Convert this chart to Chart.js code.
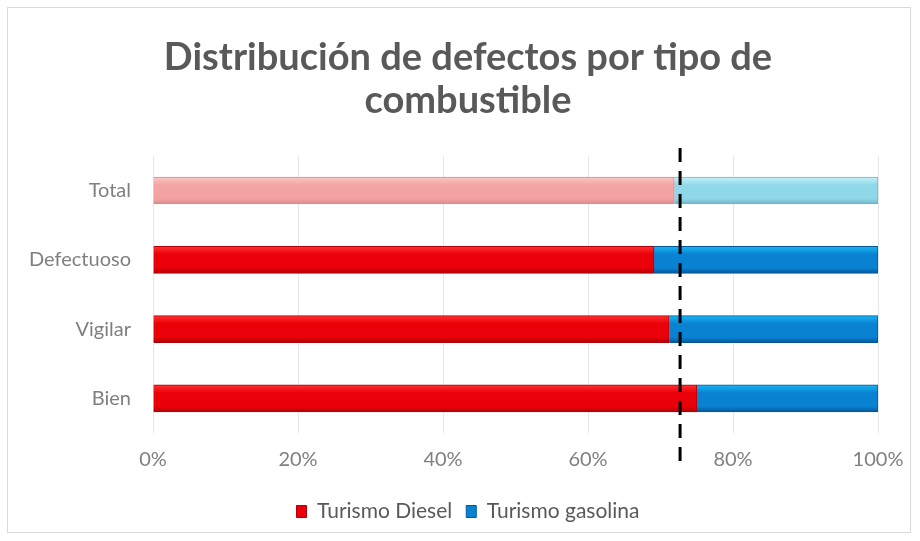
<!DOCTYPE html>
<html>
<head>
<meta charset="utf-8">
<script src="https://cdn.jsdelivr.net/npm/chart.js@4"></script>
<style>
  html, body { margin: 0; padding: 0; background: #fff; }
  #wrap { position: absolute; left: 7px; top: 7px; width: 904px; height: 526px; border: 1px solid #d9d9d9; box-sizing: border-box; }
  canvas { position: absolute; left: -8px; top: -8px; }
</style>
</head>
<body>
<div id="wrap"><canvas id="defectos-chart" width="920" height="541"></canvas></div>
<script>
var categories = ['Total', 'Defectuoso', 'Vigilar', 'Bien'];
var diesel = [71.9, 69.1, 71.2, 75.0];
var gasolina = [28.1, 30.9, 28.8, 25.0];
var referenceLine = 72.7;
var xTicks = [0, 20, 40, 60, 80, 100];

// colores: [claro, medio, oscuro] para total y resto
var dieselColors = { total: ['#fbc8c8', '#f4a3a3', '#d98c8c'], other: ['#ff3030', '#ea0008', '#b00008'] };
var gasColors = { total: ['#c6f1fa', '#8fd8e9', '#6fb5c6'], other: ['#19b6f4', '#0a82d2', '#05579a'] };

function barFill(colors) {
    return function(context) {
        var set = context.dataIndex === 0 ? colors.total : colors.other;
        var chart = context.chart;
        var y = chart.scales.y;
        if (context.dataIndex === undefined || !y || !chart.chartArea) {
            return colors.other[1];
        }
        var cy = y.getPixelForValue(context.dataIndex);
        var g = chart.ctx.createLinearGradient(0, cy - 13.5, 0, cy + 13.5);
        g.addColorStop(0, set[0]);
        g.addColorStop(0.3, set[1]);
        g.addColorStop(0.8, set[1]);
        g.addColorStop(1, set[2]);
        return g;
    };
}

function barBorder(colors) {
    return function(context) {
        if (context.dataIndex === undefined) return colors.other[2];
        return context.dataIndex === 0 ? colors.total[2] : colors.other[2];
    };
}

const dashedLine = {
    id: 'dashedLine',
    afterDatasetsDraw(chart) {
        const x = chart.scales.x.getPixelForValue(referenceLine);
        const area = chart.chartArea;
        const ctx = chart.ctx;
        ctx.save();
        ctx.strokeStyle = '#000';
        ctx.lineWidth = 3;
        ctx.setLineDash([14, 9]);
        ctx.beginPath();
        ctx.moveTo(x, area.top - 8);
        ctx.lineTo(x, area.bottom + 35);
        ctx.stroke();
        ctx.restore();
    }
};

new Chart(document.getElementById('defectos-chart'), {
    type: 'bar',
    data: {
        labels: categories,
        datasets: [
            {
                label: 'Turismo Diesel',
                data: diesel,
                backgroundColor: barFill(dieselColors),
                borderColor: barBorder(dieselColors),
                borderWidth: 1,
                barThickness: 27
            },
            {
                label: 'Turismo gasolina',
                data: gasolina,
                backgroundColor: barFill(gasColors),
                borderColor: barBorder(gasColors),
                borderWidth: 1,
                barThickness: 27
            }
        ]
    },
    options: {
        indexAxis: 'y',
        responsive: false,
        animation: false,
        layout: { padding: { left: 22, right: 6, top: 12, bottom: 9 } },
        scales: {
            x: {
                stacked: true,
                min: 0,
                max: 100,
                afterBuildTicks: function(axis) {
                    axis.ticks = xTicks.map(v => ({ value: v }));
                },
                afterFit: function(axis) {
                    axis.paddingRight = 42;
                },
                ticks: {
                    callback: v => v + '%',
                    color: '#7f7f7f',
                    font: { family: 'Lato', size: 20 },
                    padding: 15
                },
                grid: { color: '#e6e6e6', drawTicks: false },
                border: { display: false }
            },
            y: {
                stacked: true,
                afterFit: function(axis) {
                    axis.width = 131;
                },
                ticks: {
                    color: '#7f7f7f',
                    font: { family: 'Lato', size: 20 },
                    padding: 22
                },
                grid: { display: false, drawTicks: false },
                border: { display: false }
            }
        },
        plugins: {
            title: {
                display: true,
                text: ['Distribución de defectos por tipo de', 'combustible'],
                color: '#595959',
                font: { family: 'Lato', size: 38, weight: 'bold', lineHeight: 1.13 },
                padding: { top: 24, bottom: 34 }
            },
            legend: {
                position: 'bottom',
                labels: {
                    color: '#595959',
                    font: { family: 'Lato', size: 21 },
                    boxWidth: 10,
                    boxHeight: 12,
                    padding: 14,
                    generateLabels: function(chart) {
                        var items = Chart.defaults.plugins.legend.labels.generateLabels(chart);
                        var sets = [dieselColors, gasColors];
                        items.forEach(function(item, i) {
                            item.fillStyle = sets[i].other[1];
                            item.strokeStyle = sets[i].other[2];
                        });
                        return items;
                    }
                }
            },
            tooltip: { enabled: false }
        }
    },
    plugins: [dashedLine]
});
</script>
</body>
</html>
